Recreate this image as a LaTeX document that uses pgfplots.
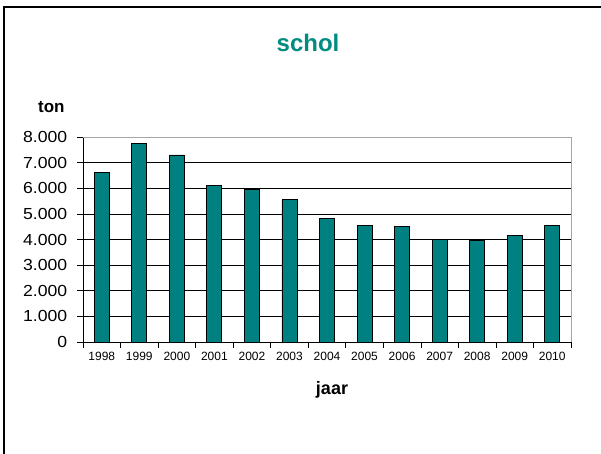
\documentclass[border=0pt]{standalone}
\usepackage{pgfplots}
\pgfplotsset{compat=1.18}
\usepackage{fontspec}
\setmainfont{Liberation Sans}
\definecolor{barteal}{RGB}{0,128,128}
\definecolor{titleteal}{RGB}{0,140,130}
\begin{document}
\begin{tikzpicture}
\useasboundingbox (0pt,0pt) rectangle (601pt,454pt);
\fill[white] (0pt,0pt) rectangle (601pt,454pt);
\draw[line width=1.6pt] (4pt,0pt) -- (4pt,447pt) -- (601pt,447pt);
\node[anchor=base,font=\bfseries\fontsize{24}{24}\selectfont,text=titleteal] at (308pt,402pt) {schol};
\node[anchor=base west,font=\bfseries\fontsize{17}{17}\selectfont,inner sep=0] at (38pt,341pt) {ton};
\node[anchor=base,font=\bfseries\fontsize{18}{18}\selectfont,inner sep=0] at (332pt,59pt) {jaar};
\begin{axis}[
  at={(83pt,112pt)}, anchor=south west,
  scale only axis, width=488pt, height=205pt,
  xmin=-0.5, xmax=12.5, ymin=0, ymax=8000,
  axis x line*=bottom, axis y line*=left,
  axis line style={-, black, line width=0.7pt},
  xtick={0,...,12},
  xticklabels={1998,1999,2000,2001,2002,2003,2004,2005,2006,2007,2008,2009,2010},
  major x tick style={draw=none},
  minor xtick={-0.5,0.5,...,12.5},
  minor x tick style={black, line width=0.7pt},
  minor tick length=6pt,
  ytick={0,1000,...,8000},
  major tick length=6pt,
  tick align=outside,
  ytick style={black, line width=0.7pt},
  ymajorgrids,
  grid style={black, line width=0.7pt},
  /pgf/number format/.cd, 1000 sep={.}, assume math mode=true,
  /pgfplots/.cd,
  yticklabel style={font=\fontsize{16}{16}\selectfont, xshift=-6pt, xscale=1.1},
  xticklabel style={font=\fontsize{12}{12}\selectfont, yshift=-1pt},
  clip=false,
]
\addplot[ybar, bar width=15pt, bar shift=0pt, fill=barteal, draw=black, line width=0.8pt]
coordinates {(0,6600) (1,7750) (2,7300) (3,6100) (4,5950) (5,5550) (6,4830) (7,4550) (8,4500) (9,4000) (10,3960) (11,4170) (12,4550)};
\draw[gray!70, line width=0.9pt] (rel axis cs:0,1) -- (rel axis cs:1,1) -- (rel axis cs:1,0);
\end{axis}
\end{tikzpicture}
\end{document}
